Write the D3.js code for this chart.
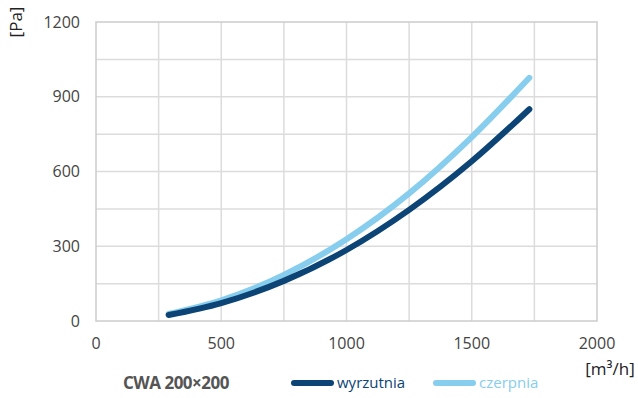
<!DOCTYPE html>
<html>
<head>
<meta charset="utf-8">
<script src="https://cdn.jsdelivr.net/npm/d3@7"></script>
<style>
  body { margin: 0; background: #fff; }
  text { font-family: "Open Sans", "Noto Sans", sans-serif; }
</style>
</head>
<body>
<div id="container"></div>
<script>
/* CONSTANTS AND GLOBALS */
const width = 638;
const height = 398;
const margin = { top: 22, right: 41, bottom: 77, left: 96 };

// airflow [m3/h] and pressure drop [Pa]
const flow = [290, 500, 750, 1000, 1250, 1500, 1730];
const wyrzutnia = [24, 72, 161, 285, 446, 641, 850];
const czerpnia = [28, 83, 185, 328, 512, 738, 976];
const xTicks = [0, 500, 1000, 1500, 2000];
const yTicks = [0, 300, 600, 900, 1200];

const series = [
  { name: "czerpnia", values: czerpnia, color: "#87cdee" },
  { name: "wyrzutnia", values: wyrzutnia, color: "#0b4475" }
];

/* SCALES */
const xScale = d3.scaleLinear()
  .domain([0, 2000])
  .range([margin.left, width - margin.right]);

const yScale = d3.scaleLinear()
  .domain([0, 1200])
  .range([height - margin.bottom, margin.top]);

const svg = d3.select("#container")
  .append("svg")
  .attr("width", width)
  .attr("height", height);

// grid
svg.append("g")
  .selectAll("line")
  .data(d3.range(250, 2000, 250))
  .join("line")
  .attr("x1", d => xScale(d))
  .attr("x2", d => xScale(d))
  .attr("y1", yScale(0))
  .attr("y2", yScale(1200))
  .attr("stroke", "#dcdcdc")
  .attr("stroke-width", 1.5);

svg.append("g")
  .selectAll("line")
  .data(d3.range(150, 1200, 150))
  .join("line")
  .attr("x1", xScale(0))
  .attr("x2", xScale(2000))
  .attr("y1", d => yScale(d))
  .attr("y2", d => yScale(d))
  .attr("stroke", "#dcdcdc")
  .attr("stroke-width", 1.5);

// frame
svg.append("rect")
  .attr("x", xScale(0))
  .attr("y", yScale(1200))
  .attr("width", xScale(2000) - xScale(0))
  .attr("height", yScale(0) - yScale(1200))
  .attr("fill", "none")
  .attr("stroke", "#cccccc")
  .attr("stroke-width", 1.5);

// tick labels
svg.append("g")
  .selectAll("text")
  .data(yTicks)
  .join("text")
  .text(d => d)
  .attr("x", 80)
  .attr("y", d => yScale(d))
  .attr("dy", "0.35em")
  .attr("text-anchor", "end")
  .style("fill", "#444")
  .style("font-size", "16px");

svg.append("g")
  .selectAll("text")
  .data(xTicks)
  .join("text")
  .text(d => d)
  .attr("x", d => xScale(d))
  .attr("y", 349)
  .attr("text-anchor", "middle")
  .style("fill", "#444")
  .style("font-size", "16px");

// axis units
svg.append("text")
  .text("[Pa]")
  .attr("transform", "translate(22,22) rotate(-90)")
  .attr("text-anchor", "middle")
  .style("fill", "#222")
  .style("font-size", "17px");

svg.append("text")
  .text("[m³/h]")
  .attr("x", 610)
  .attr("y", 375)
  .attr("text-anchor", "middle")
  .style("fill", "#222")
  .style("font-size", "17px");

// lines
const line = d3.line()
  .x((d, i) => xScale(flow[i]))
  .y(d => yScale(d))
  .curve(d3.curveMonotoneX);

svg.append("g")
  .selectAll("path")
  .data(series)
  .join("path")
  .attr("d", d => line(d.values))
  .attr("fill", "none")
  .attr("stroke", d => d.color)
  .attr("stroke-width", 6)
  .attr("stroke-linecap", "round");

// legend
svg.append("text")
  .text("CWA 200×200")
  .attr("x", 123)
  .attr("y", 389)
  .style("fill", "#555")
  .style("font-size", "17px")
  .style("font-weight", "bold")
  .style("letter-spacing", "-0.5px");

const legend = svg.append("g")
  .selectAll("g")
  .data([series[1], series[0]])
  .join("g")
  .attr("transform", (d, i) => `translate(${294 + i * 142},383)`);

legend.append("line")
  .attr("x1", 0)
  .attr("x2", 37)
  .attr("stroke", d => d.color)
  .attr("stroke-width", 6)
  .attr("stroke-linecap", "round");

legend.append("text")
  .text(d => d.name)
  .attr("x", 43)
  .attr("dy", "0.35em")
  .style("fill", d => d.color)
  .style("font-size", "15px");
</script>
</body>
</html>
